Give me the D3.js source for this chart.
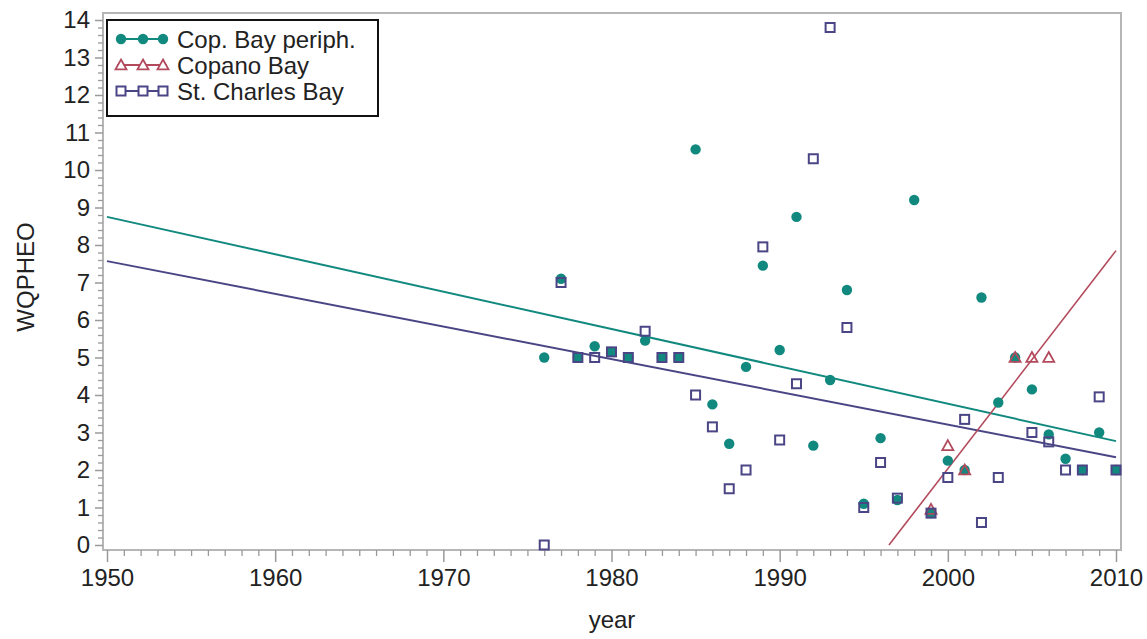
<!DOCTYPE html>
<html>
<head>
<meta charset="utf-8">
<script src="https://cdn.jsdelivr.net/npm/d3@7"></script>
<style>
  html, body { margin: 0; padding: 0; background: #fff; }
  svg { display: block; font-family: "Liberation Sans", Arial, sans-serif; }
</style>
</head>
<body>
<svg id="chart" width="1147" height="639"></svg>
<script>
// ---- data ----
const seriesNames = ["Cop. Bay periph.", "Copano Bay", "St. Charles Bay"];

const copPeriphYears = [1976,1977,1978,1979,1980,1981,1982,1983,1984,1985,1986,1987,1988,1989,1990,1991,1992,1993,1994,1995,1996,1997,1998,1999,2000,2001,2002,2003,2004,2005,2006,2007,2008,2009,2010];
const copPeriphValues = [5.0,7.1,5.0,5.3,5.15,5.0,5.45,5.0,5.0,10.55,3.75,2.7,4.75,7.45,5.2,8.75,2.65,4.4,6.8,1.1,2.85,1.2,9.2,0.85,2.25,2.0,6.6,3.8,5.0,4.15,2.95,2.3,2.0,3.0,2.0];

const copanoYears = [1999,2000,2001,2004,2005,2006];
const copanoValues = [0.95,2.65,2.0,5.0,5.0,5.0];

const stCharlesYears = [1976,1977,1978,1979,1980,1981,1982,1983,1984,1985,1986,1987,1988,1989,1990,1991,1992,1993,1994,1995,1996,1997,1999,2000,2001,2002,2003,2005,2006,2007,2008,2009,2010];
const stCharlesValues = [0.0,7.0,5.0,5.0,5.15,5.0,5.7,5.0,5.0,4.0,3.15,1.5,2.0,7.95,2.8,4.3,10.3,13.8,5.8,1.0,2.2,1.25,0.85,1.8,3.35,0.6,1.8,3.0,2.75,2.0,2.0,3.95,2.0];

// fitted lines: [startYear, startValue, endYear, endValue]
const copPeriphFit = [1950, 8.75, 2010, 2.77];
const copanoFit = [1996.5, 0.0, 2010, 7.85];
const stCharlesFit = [1950, 7.57, 2010, 2.34];

const xTickLabels = [1950, 1960, 1970, 1980, 1990, 2000, 2010];
const yTickLabels = [0,1,2,3,4,5,6,7,8,9,10,11,12,13,14];

// ---- styles ----
const cTeal = "#12897f", cRed = "#b24a5c", cPurple = "#4a4585";
const svg = d3.select("#chart");

const x = d3.scaleLinear().domain([1950, 2010]).range([107, 1116]);
const y = d3.scaleLinear().domain([0, 14]).range([545, 20]);

const frame = {l: 103, r: 1121, t: 13, b: 550};

// frame
svg.append("rect")
  .attr("x", frame.l).attr("y", frame.t)
  .attr("width", frame.r - frame.l).attr("height", frame.b - frame.t)
  .attr("fill", "none").attr("stroke", "#b4b6b8").attr("stroke-width", 2);

// x axis minor ticks
const xMinor = d3.range(1950, 2011, 1).filter(v => v % 10 !== 0);
svg.append("g").attr("transform", `translate(0,${frame.b})`)
  .call(d3.axisBottom(x).tickValues(xMinor).tickSize(6).tickFormat(""))
  .call(g => g.select(".domain").remove())
  .call(g => g.selectAll("line").attr("stroke", "#9a9a9a").attr("stroke-width", 1.3));
// x axis major
svg.append("g").attr("transform", `translate(0,${frame.b})`)
  .call(d3.axisBottom(x).tickValues(xTickLabels).tickSize(12).tickPadding(7).tickFormat(d3.format("d")))
  .call(g => g.select(".domain").remove())
  .call(g => g.selectAll("line").attr("stroke", "#9a9a9a").attr("stroke-width", 1.5))
  .call(g => g.selectAll("text").attr("font-size", 24).attr("fill", "#222")
     .attr("font-family", "'Liberation Sans', Arial, sans-serif"));

// y axis minor
const yMinor = d3.range(0, 70, 1).map(i => i / 5).filter(v => Math.abs(v - Math.round(v)) > 1e-6);
svg.append("g").attr("transform", `translate(${frame.l},0)`)
  .call(d3.axisLeft(y).tickValues(yMinor).tickSize(5).tickFormat(""))
  .call(g => g.select(".domain").remove())
  .call(g => g.selectAll("line").attr("stroke", "#9a9a9a").attr("stroke-width", 1.3));
// y axis major
svg.append("g").attr("transform", `translate(${frame.l},0)`)
  .call(d3.axisLeft(y).tickValues(yTickLabels).tickSize(8).tickPadding(5).tickFormat(d3.format("d")))
  .call(g => g.select(".domain").remove())
  .call(g => g.selectAll("line").attr("stroke", "#9a9a9a").attr("stroke-width", 1.5))
  .call(g => g.selectAll("text").attr("font-size", 24).attr("fill", "#222")
     .attr("font-family", "'Liberation Sans', Arial, sans-serif"));

// axis titles
svg.append("text").attr("x", 612).attr("y", 628).attr("text-anchor", "middle")
  .attr("font-size", 24).attr("fill", "#222").text("year");
svg.append("text").attr("transform", "translate(34,277) rotate(-90)").attr("text-anchor", "middle")
  .attr("font-size", 24).attr("fill", "#222").text("WQPHEO");

// fit lines
const fits = [[copPeriphFit, cTeal, 2], [stCharlesFit, cPurple, 2], [copanoFit, cRed, 1.6]];
fits.forEach(([f, c, w]) => {
  svg.append("line")
    .attr("x1", x(f[0])).attr("y1", y(f[1]))
    .attr("x2", x(f[2])).attr("y2", y(f[3]))
    .attr("stroke", c).attr("stroke-width", w);
});

// markers
const circleData = copPeriphYears.map((yr, i) => ({yr, v: copPeriphValues[i]}));
const triData = copanoYears.map((yr, i) => ({yr, v: copanoValues[i]}));
const sqData = stCharlesYears.map((yr, i) => ({yr, v: stCharlesValues[i]}));

svg.append("g").selectAll("circle").data(circleData).join("circle")
  .attr("cx", d => x(d.yr)).attr("cy", d => y(d.v)).attr("r", 5.2)
  .attr("fill", cTeal);

const triPath = (cx, cy) => {
  const s = 5.5;
  return `M${cx},${cy - s}L${cx + s},${cy + s * 0.8}L${cx - s},${cy + s * 0.8}Z`;
};
svg.append("g").selectAll("path").data(triData).join("path")
  .attr("d", d => triPath(x(d.yr), y(d.v)))
  .attr("fill", "none").attr("stroke", cRed).attr("stroke-width", 1.8);

svg.append("g").selectAll("rect").data(sqData).join("rect")
  .attr("x", d => x(d.yr) - 4.5).attr("y", d => y(d.v) - 4.5)
  .attr("width", 9).attr("height", 9)
  .attr("fill", "none").attr("stroke", cPurple).attr("stroke-width", 2);

// legend
const lg = svg.append("g");
lg.append("rect").attr("x", 107).attr("y", 20).attr("width", 271).attr("height", 96)
  .attr("fill", "#fff").attr("stroke", "#111").attr("stroke-width", 2);
const rowY = [39, 65, 91];
const mkX = [121, 143, 163];
seriesNames.forEach((name, i) => {
  const cy = rowY[i];
  const col = [cTeal, cRed, cPurple][i];
  lg.append("line").attr("x1", 117).attr("x2", 167).attr("y1", cy).attr("y2", cy)
    .attr("stroke", col).attr("stroke-width", 2);
  mkX.forEach(mx => {
    if (i === 0) lg.append("circle").attr("cx", mx).attr("cy", cy).attr("r", 5.2).attr("fill", col);
    else if (i === 1) lg.append("path").attr("d", triPath(mx, cy)).attr("fill", "#fff").attr("stroke", col).attr("stroke-width", 1.8);
    else lg.append("rect").attr("x", mx - 4.5).attr("y", cy - 4.5).attr("width", 9).attr("height", 9)
      .attr("fill", "#fff").attr("stroke", col).attr("stroke-width", 2);
  });
  lg.append("text").attr("x", 177).attr("y", cy).attr("dy", "0.36em")
    .attr("font-size", 24).attr("fill", "#222").text(name);
});
</script>
</body>
</html>
